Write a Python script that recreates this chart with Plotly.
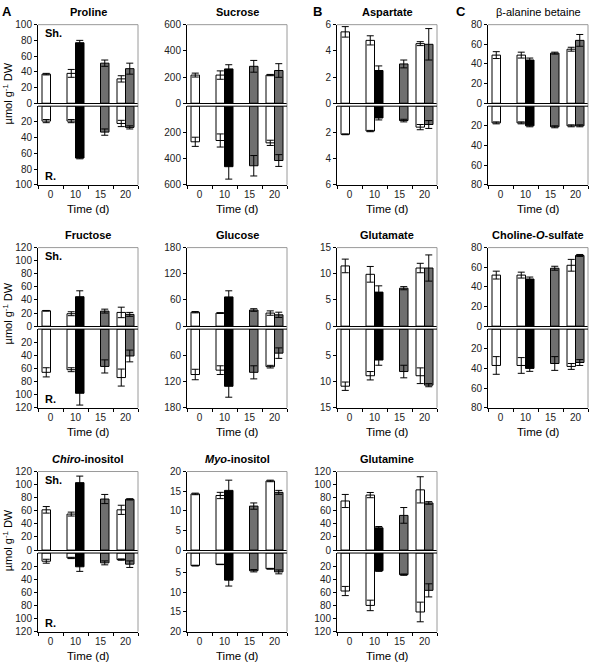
import plotly.graph_objects as go

days = ["0", "10", "15", "20"]

# ---- data: shoot (Sh.) and root (R.) values; w = control (white), d = treated (black/gray) ----
proline_sh_w, proline_sh_w_err = [37, 38, None, 31], [1, 5, None, 4]
proline_sh_d, proline_sh_d_err = [None, 77, 51, 44], [None, 3, 4, 7]
proline_rt_w, proline_rt_w_err = [19, 19, None, 22], [2, 2, None, 4]
proline_rt_d, proline_rt_d_err = [None, 66, 33, 27], [None, 1, 4, 2]

sucrose_sh_w, sucrose_sh_w_err = [215, 215, None, 215], [15, 32, None, 5]
sucrose_sh_d, sucrose_sh_d_err = [None, 262, 282, 250], [None, 32, 45, 52]
sucrose_rt_w, sucrose_rt_w_err = [272, 262, None, 280], [35, 50, None, 20]
sucrose_rt_d, sucrose_rt_d_err = [None, 462, 455, 415], [None, 95, 78, 45]

aspartate_sh_w, aspartate_sh_w_err = [5.45, 4.8, None, 4.55], [0.4, 0.35, None, 0.15]
aspartate_sh_d, aspartate_sh_d_err = [None, 2.5, 3.0, 4.5], [None, 0.35, 0.3, 1.2]
aspartate_rt_w, aspartate_rt_w_err = [2.15, 1.9, None, 1.6], [0.03, 0.05, None, 0.2]
aspartate_rt_d, aspartate_rt_d_err = [None, 0.9, 1.1, 1.4], [None, 0.15, 0.1, 0.3]

alanbet_sh_w, alanbet_sh_w_err = [49, 49, None, 55], [3.5, 3, None, 2]
alanbet_sh_d, alanbet_sh_d_err = [None, 44, 51, 64], [None, 2, 1, 6]
alanbet_rt_w, alanbet_rt_w_err = [17, 17, None, 20], [1, 1, None, 1]
alanbet_rt_d, alanbet_rt_d_err = [None, 20, 21, 20], [None, 1, 1, 1]

fructose_sh_w, fructose_sh_w_err = [23.5, 19, None, 21], [0.5, 3, None, 8]
fructose_sh_d, fructose_sh_d_err = [None, 45, 23, 18], [None, 9, 3, 3]
fructose_rt_w, fructose_rt_w_err = [66, 62, None, 74], [7, 3, None, 13]
fructose_rt_d, fructose_rt_d_err = [None, 98, 57, 41], [None, 18, 10, 9]

glucose_sh_w, glucose_sh_w_err = [32, 30, None, 30], [1.5, 1, None, 5]
glucose_sh_d, glucose_sh_d_err = [None, 67, 37, 26], [None, 14, 3, 6]
glucose_rt_w, glucose_rt_w_err = [104, 94, None, 86], [12, 10, None, 3]
glucose_rt_d, glucose_rt_d_err = [None, 131, 99, 55], [None, 25, 15, 12]

glutamate_sh_w, glutamate_sh_w_err = [11.5, 9.9, None, 11.1], [1.3, 1.5, None, 0.9]
glutamate_sh_d, glutamate_sh_d_err = [None, 6.5, 7.25, 11.1], [None, 1.2, 0.3, 2.5]
glutamate_rt_w, glutamate_rt_w_err = [10.9, 8.9, None, 8.9], [0.8, 0.8, None, 1.5]
glutamate_rt_d, glutamate_rt_d_err = [None, 5.9, 8.1, 10.7], [None, 1.0, 1.2, 0.3]

choline_sh_w, choline_sh_w_err = [52, 52, None, 62], [4, 3, None, 6]
choline_sh_d, choline_sh_d_err = [None, 48, 59, 72], [None, 2, 2, 1]
choline_rt_w, choline_rt_w_err = [37, 37, None, 38], [9, 8, None, 3]
choline_rt_d, choline_rt_d_err = [None, 40, 35, 34], [None, 3, 7, 3]

chiro_sh_w, chiro_sh_w_err = [61.5, 55, None, 61.5], [5, 3, None, 7]
chiro_sh_d, chiro_sh_d_err = [None, 103, 78, 77.5], [None, 10, 7, 1]
chiro_rt_w, chiro_rt_w_err = [12.5, 7.5, None, 10], [3, 1, None, 1]
chiro_rt_d, chiro_rt_d_err = [None, 21, 15, 17], [None, 7, 3, 5]

myo_sh_w, myo_sh_w_err = [14.3, 13.9, None, 17.6], [0.2, 0.8, None, 0.2]
myo_sh_d, myo_sh_d_err = [None, 15.2, 11.2, 14.7], [None, 2.6, 0.8, 0.5]
myo_rt_w, myo_rt_w_err = [3.2, 2.9, None, 4.0], [0.1, 0.05, None, 0.1]
myo_rt_d, myo_rt_d_err = [None, 6.9, 4.5, 4.8], [None, 1.5, 0.3, 0.5]

glutamine_sh_w, glutamine_sh_w_err = [75, 84, None, 92], [10, 4, None, 20]
glutamine_sh_d, glutamine_sh_d_err = [None, 34, 53, 72], [None, 2, 12, 2]
glutamine_rt_w, glutamine_rt_w_err = [58, 80, None, 90], [7, 8, None, 15]
glutamine_rt_d, glutamine_rt_d_err = [None, 27, 33, 57], [None, 1, 1, 10]

# ---- panel definitions: (title, row, col, axis max, tick step, data) ----
panels = [
    ("<b>Proline</b>", 0, 0, 100, 20,
     proline_sh_w, proline_sh_w_err, proline_sh_d, proline_sh_d_err,
     proline_rt_w, proline_rt_w_err, proline_rt_d, proline_rt_d_err),
    ("<b>Sucrose</b>", 0, 1, 600, 200,
     sucrose_sh_w, sucrose_sh_w_err, sucrose_sh_d, sucrose_sh_d_err,
     sucrose_rt_w, sucrose_rt_w_err, sucrose_rt_d, sucrose_rt_d_err),
    ("<b>Aspartate</b>", 0, 2, 6, 2,
     aspartate_sh_w, aspartate_sh_w_err, aspartate_sh_d, aspartate_sh_d_err,
     aspartate_rt_w, aspartate_rt_w_err, aspartate_rt_d, aspartate_rt_d_err),
    ("β-alanine betaine", 0, 3, 80, 20,
     alanbet_sh_w, alanbet_sh_w_err, alanbet_sh_d, alanbet_sh_d_err,
     alanbet_rt_w, alanbet_rt_w_err, alanbet_rt_d, alanbet_rt_d_err),
    ("<b>Fructose</b>", 1, 0, 120, 20,
     fructose_sh_w, fructose_sh_w_err, fructose_sh_d, fructose_sh_d_err,
     fructose_rt_w, fructose_rt_w_err, fructose_rt_d, fructose_rt_d_err),
    ("<b>Glucose</b>", 1, 1, 180, 60,
     glucose_sh_w, glucose_sh_w_err, glucose_sh_d, glucose_sh_d_err,
     glucose_rt_w, glucose_rt_w_err, glucose_rt_d, glucose_rt_d_err),
    ("<b>Glutamate</b>", 1, 2, 15, 5,
     glutamate_sh_w, glutamate_sh_w_err, glutamate_sh_d, glutamate_sh_d_err,
     glutamate_rt_w, glutamate_rt_w_err, glutamate_rt_d, glutamate_rt_d_err),
    ("<b>Choline-<i>O</i>-sulfate</b>", 1, 3, 80, 20,
     choline_sh_w, choline_sh_w_err, choline_sh_d, choline_sh_d_err,
     choline_rt_w, choline_rt_w_err, choline_rt_d, choline_rt_d_err),
    ("<b><i>Chiro</i>-inositol</b>", 2, 0, 120, 20,
     chiro_sh_w, chiro_sh_w_err, chiro_sh_d, chiro_sh_d_err,
     chiro_rt_w, chiro_rt_w_err, chiro_rt_d, chiro_rt_d_err),
    ("<b><i>Myo</i>-inositol</b>", 2, 1, 20, 5,
     myo_sh_w, myo_sh_w_err, myo_sh_d, myo_sh_d_err,
     myo_rt_w, myo_rt_w_err, myo_rt_d, myo_rt_d_err),
    ("<b>Glutamine</b>", 2, 2, 120, 20,
     glutamine_sh_w, glutamine_sh_w_err, glutamine_sh_d, glutamine_sh_d_err,
     glutamine_rt_w, glutamine_rt_w_err, glutamine_rt_d, glutamine_rt_d_err),
]

# ---- layout geometry (pixels) ----
W, H = 590, 671
col_left = [38, 187, 337, 488]
row_top = [19, 246, 474]
PW, HALF, GAP = 100, 80, 3
FONT = "Arial, 'Liberation Sans', sans-serif"
GRAY = "#6f6f6f"
FRAME = "#9a9a9a"
dark_colors = ["#000000", "#000000", GRAY, GRAY]


def px(x):
    return x / W


def py(y):
    return 1 - y / H


fig = go.Figure()
layout = {}
shapes = []
annotations = []
k = 0


def add_half(k, vals_w, err_w, vals_d, err_d, ymax, step, bottom, xdom, ydom):
    xa = "x" if k == 1 else f"x{k}"
    ya = "y" if k == 1 else f"y{k}"
    for vals, errs, col in ((vals_w, err_w, "white"), (vals_d, err_d, dark_colors)):
        fig.add_trace(go.Bar(
            x=days, y=vals, xaxis=xa, yaxis=ya, showlegend=False,
            marker=dict(color=col, line=dict(color="black", width=1)),
            error_y=dict(type="data", array=errs, visible=True, color="black",
                         thickness=1, width=3.5),
            hoverinfo="skip"))
    kx = "xaxis" if k == 1 else f"xaxis{k}"
    ky = "yaxis" if k == 1 else f"yaxis{k}"
    layout[kx] = dict(
        domain=xdom, anchor=ya, type="category", range=[-0.5, 3.5],
        showline=True, linecolor="black", linewidth=1, showgrid=False,
        zeroline=False, fixedrange=True,
        showticklabels=bottom, ticks="outside" if bottom else "",
        tickson="boundaries", ticklen=3, tickcolor="black",
        tickfont=dict(family=FONT, size=10, color="#222"))
    if bottom:
        yd = dict(range=[ymax, 0],
                  tickvals=[v * step for v in range(1, int(round(ymax / step)) + 1)])
    else:
        yd = dict(range=[0, ymax], tick0=0, dtick=step)
    layout[ky] = dict(
        domain=ydom, anchor=xa, showline=True, linecolor="black", linewidth=1,
        showgrid=False, zeroline=False, ticks="outside", ticklen=3,
        tickcolor="black", fixedrange=True,
        tickfont=dict(family=FONT, size=10, color="#222"), **yd)


for (title, r, c, ymax, step, sw, swe, sd, sde, rw, rwe, rd, rde) in panels:
    left = col_left[c]
    top = row_top[r]
    xdom = [px(left), px(left + PW)]
    top_dom = [py(top + HALF), py(top)]
    bot_dom = [py(top + 2 * HALF + GAP), py(top + HALF + GAP)]
    k += 1
    add_half(k, sw, swe, sd, sde, ymax, step, False, xdom, top_dom)
    k += 1
    add_half(k, rw, rwe, rd, rde, ymax, step, True, xdom, bot_dom)

    # gray frame (top and right), black zero line of root half
    shapes.append(dict(type="line", xref="paper", yref="paper",
                       x0=px(left), x1=px(left + PW), y0=py(top), y1=py(top),
                       line=dict(color=FRAME, width=1)))
    shapes.append(dict(type="line", xref="paper", yref="paper",
                       x0=px(left + PW), x1=px(left + PW), y0=py(top),
                       y1=py(top + 2 * HALF + GAP), line=dict(color=FRAME, width=1)))
    shapes.append(dict(type="line", xref="paper", yref="paper",
                       x0=px(left), x1=px(left + PW), y0=py(top + HALF + GAP),
                       y1=py(top + HALF + GAP), line=dict(color="black", width=1)))

    # title
    annotations.append(dict(text=title, x=px(left + PW / 2), y=py(top - 13),
                            xref="paper", yref="paper", showarrow=False,
                            xanchor="center", yanchor="middle",
                            font=dict(family=FONT, size=11, color="black")))
    # x-axis title
    annotations.append(dict(text="Time (d)", x=px(left + PW / 2),
                            y=py(top + 2 * HALF + GAP + 25), xref="paper",
                            yref="paper", showarrow=False, xanchor="center",
                            yanchor="middle",
                            font=dict(family=FONT, size=11.5, color="black")))
    if c == 0:
        annotations.append(dict(text="<b>Sh.</b>", x=px(left + 5), y=py(top + 9),
                                xref="paper", yref="paper", showarrow=False,
                                xanchor="left", yanchor="middle",
                                font=dict(family=FONT, size=11, color="black")))
        annotations.append(dict(text="<b>R.</b>", x=px(left + 5),
                                y=py(top + 2 * HALF + GAP - 9), xref="paper",
                                yref="paper", showarrow=False, xanchor="left",
                                yanchor="middle",
                                font=dict(family=FONT, size=11, color="black")))
        annotations.append(dict(text="µmol g<sup>-1</sup> DW", x=px(8),
                                y=py(top + 70 - (3 if r == 1 else 0)),
                                xref="paper", yref="paper", showarrow=False,
                                textangle=-90, xanchor="center", yanchor="middle",
                                font=dict(family=FONT, size=11, color="black")))

for letter, x in (("A", 7), ("B", 317), ("C", 461)):
    annotations.append(dict(text=f"<b>{letter}</b>", x=px(x), y=py(6),
                            xref="paper", yref="paper", showarrow=False,
                            xanchor="center", yanchor="middle",
                            font=dict(family=FONT, size=13, color="black")))

fig.update_layout(
    width=W, height=H, margin=dict(l=0, r=0, t=0, b=0),
    paper_bgcolor="white", plot_bgcolor="white",
    barmode="group", bargap=0.32, bargroupgap=0,
    shapes=shapes, annotations=annotations, **layout)

fig.write_html("out.html", config={"displayModeBar": False},
               post_script="document.body.style.margin='0px';"
                           "document.body.style.overflow='hidden';")
